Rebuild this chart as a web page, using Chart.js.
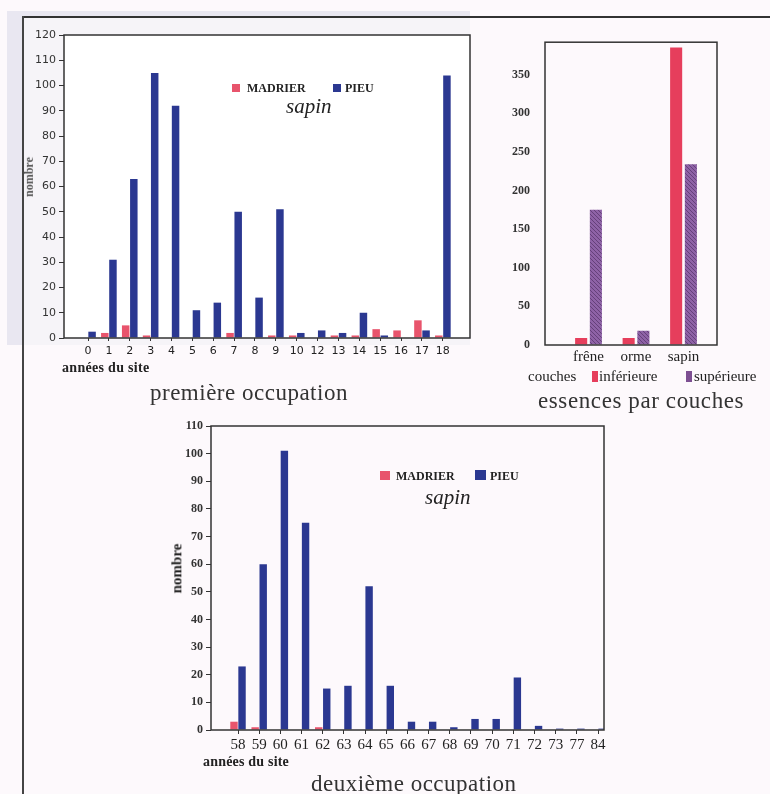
<!DOCTYPE html>
<html>
<head>
<meta charset="utf-8">
<script src="https://cdn.jsdelivr.net/npm/chart.js@4/dist/chart.umd.min.js"></script>
<style>
  body { margin: 0; width: 770px; height: 794px; background: #fdf9fc; position: relative; overflow: hidden;
         font-family: "Liberation Serif", "Times New Roman", serif; color: #222; }
  canvas { position: absolute; }
  .t { position: absolute; white-space: nowrap; line-height: 1; }
  .sq { position: absolute; }
  .leg { font-weight: bold; font-size: 12px; }
  .sapin { font-style: italic; font-size: 21px; }
  .cap { font-size: 23px; color: #333; letter-spacing: 0.5px; }
</style>
</head>
<body>
<div style="position:absolute;left:7px;top:11px;width:463px;height:334px;background:#e9e7f1"></div>
<div style="position:absolute;left:23px;top:17px;width:447px;height:328px;background:#f6f4f8"></div>
<div style="position:absolute;left:22px;top:16px;width:748px;height:2px;background:#333"></div>
<div style="position:absolute;left:22px;top:16px;width:2px;height:778px;background:#444"></div>

<canvas id="c1" width="480" height="370" style="left:0;top:0"></canvas>
<canvas id="c2" width="260" height="350" style="left:480px;top:20px"></canvas>
<canvas id="c3" width="470" height="350" style="left:150px;top:410px"></canvas>

<!-- chart 1 texts -->
<div class="t" style="left:9px;top:171px;font-size:12px;font-weight:bold;color:#555;transform:rotate(-90deg);transform-origin:center">nombre</div>
<div class="sq" style="left:232px;top:84px;width:8px;height:8px;background:#e8546c"></div>
<div class="t leg" style="left:247px;top:82px">MADRIER</div>
<div class="sq" style="left:333px;top:84px;width:8px;height:8px;background:#2b3891"></div>
<div class="t leg" style="left:345px;top:82px">PIEU</div>
<div class="t sapin" style="left:286px;top:96px">sapin</div>
<div class="t" style="left:62px;top:361px;font-size:14px;font-weight:bold;letter-spacing:0.3px">années du site</div>
<div class="t cap" style="left:150px;top:381px">première occupation</div>

<!-- chart 2 texts -->
<div class="t" style="left:528px;top:369px;font-size:15px">couches</div>
<div class="sq" style="left:592px;top:371px;width:6px;height:11px;background:#e63e5c"></div>
<div class="t" style="left:599px;top:369px;font-size:15px">inférieure</div>
<div class="sq" style="left:686px;top:371px;width:6px;height:11px;background:#7d4f92"></div>
<div class="t" style="left:694px;top:369px;font-size:15px">supérieure</div>
<div class="t cap" style="left:538px;top:389px;letter-spacing:0.6px">essences par couches</div>

<!-- chart 3 texts -->
<div class="t" style="left:152px;top:561px;font-size:15px;font-weight:bold;transform:rotate(-90deg);transform-origin:center">nombre</div>
<div class="sq" style="left:380px;top:471px;width:10px;height:9px;background:#e8546c"></div>
<div class="t leg" style="left:396px;top:470px">MADRIER</div>
<div class="sq" style="left:475px;top:470px;width:11px;height:10px;background:#2b3891"></div>
<div class="t leg" style="left:490px;top:470px">PIEU</div>
<div class="t sapin" style="left:425px;top:487px">sapin</div>
<div class="t" style="left:203px;top:755px;font-size:14px;font-weight:bold;letter-spacing:0.2px">années du site</div>
<div class="t cap" style="left:311px;top:772px">deuxième occupation</div>

<script>
// première occupation
const years1 = ['0', '1', '2', '3', '4', '5', '6', '7', '8', '9', '10', '12', '13', '14', '15', '16', '17', '18'];
const madrier1 = [0, 2, 5, 1, 0, 0, 0, 2, 0, 1, 1, 0, 1, 1, 3.5, 3, 7, 1];
const pieu1 = [2.5, 31, 63, 105, 92, 11, 14, 50, 16, 51, 2, 3, 2, 10, 1, 0, 3, 104];
const yTicks1 = [0, 10, 20, 30, 40, 50, 60, 70, 80, 90, 100, 110, 120];

// essences par couches
const essences = ['frêne', 'orme', 'sapin'];
const inferieure = [9, 9, 385];
const superieure = [175, 18.5, 234];
const yTicks2 = [0, 50, 100, 150, 200, 250, 300, 350];

// deuxième occupation
const years2 = ['58', '59', '60', '61', '62', '63', '64', '65', '66', '67', '68', '69', '70', '71', '72', '73', '77', '84'];
const madrier2 = [3, 1, 0, 0, 1, 0, 0, 0, 0, 0, 0, 0, 0, 0, 0, 0, 0, 0];
const pieu2 = [23, 60, 101, 75, 15, 16, 52, 16, 3, 3, 1, 4, 4, 19, 1.5, 0.5, 0.5, 0.5];
const yTicks3 = [0, 10, 20, 30, 40, 50, 60, 70, 80, 90, 100, 110];

const RED = '#e8546c';
const BLUE = '#2b3891';

Chart.defaults.animation = false;
Chart.defaults.responsive = false;
Chart.defaults.devicePixelRatio = 1;

// box around the plot area
const frame = {
    id: 'frame',
    beforeDraw(chart, args, opts) {
        const a = chart.chartArea, ctx = chart.ctx;
        if (opts.fill) {
            ctx.save();
            ctx.fillStyle = opts.fill;
            ctx.fillRect(a.left, a.top, a.right - a.left, a.bottom - a.top);
            ctx.restore();
        }
    },
    afterDraw(chart, args, opts) {
        const a = chart.chartArea, ctx = chart.ctx;
        ctx.save();
        ctx.strokeStyle = '#333';
        ctx.lineWidth = opts.width || 1.5;
        ctx.strokeRect(a.left, a.top, a.right - a.left, a.bottom - a.top);
        ctx.restore();
    }
};

function hatch(base, line) {
    const c = document.createElement('canvas');
    c.width = 4; c.height = 4;
    const g = c.getContext('2d');
    g.fillStyle = base;
    g.fillRect(0, 0, 4, 4);
    g.strokeStyle = line;
    g.lineWidth = 1;
    g.beginPath();
    g.moveTo(0, 0); g.lineTo(4, 4);
    g.stroke();
    return g.createPattern(c, 'repeat');
}

const pts = arr => arr.map((v, i) => ({ x: i, y: v }));

function xAxis(labels, min, max, height, font, tickLen, pad) {
    return {
        type: 'linear', min: min, max: max, offset: false,
        afterBuildTicks: s => { s.ticks = labels.map((_, i) => ({ value: i })); },
        ticks: { callback: v => labels[v], autoSkip: false, maxRotation: 0, font: font, color: '#222', padding: pad },
        grid: { drawOnChartArea: false, drawTicks: tickLen > 0, tickLength: tickLen, color: '#333', offset: false },
        border: { display: false },
        afterFit: s => { s.height = height; }
    };
}

function yAxis(ticks, max, width, font, tickLen, pad) {
    return {
        min: 0, max: max,
        afterBuildTicks: s => { s.ticks = ticks.map(v => ({ value: v })); },
        ticks: { font: font, color: '#333', padding: pad },
        grid: { drawOnChartArea: false, drawTicks: tickLen > 0, tickLength: tickLen, color: '#333' },
        border: { display: false },
        afterFit: s => { s.width = width; }
    };
}

// chart 1
new Chart(document.getElementById('c1'), {
    type: 'bar',
    data: {
        datasets: [
            { label: 'MADRIER', data: pts(madrier1), backgroundColor: RED },
            { label: 'PIEU', data: pts(pieu1), backgroundColor: BLUE }
        ]
    },
    options: {
        layout: { padding: { top: 35, right: 10, left: 0, bottom: 0 } },
        categoryPercentage: 0.78,
        barPercentage: 0.92,
        scales: {
            x: xAxis(years1, -1.15, 18.3, 32, { family: 'DejaVu Sans', size: 11 }, 3, 4),
            y: yAxis(yTicks1, 120, 64, { family: 'DejaVu Sans', size: 11 }, 5, 3)
        },
        plugins: { legend: { display: false }, tooltip: { enabled: false }, frame: { fill: '#ffffff', width: 1.5 } }
    },
    plugins: [frame]
});

// chart 2
new Chart(document.getElementById('c2'), {
    type: 'bar',
    data: {
        datasets: [
            { label: 'inférieure', data: pts(inferieure), backgroundColor: '#e63e5c' },
            { label: 'supérieure', data: pts(superieure), backgroundColor: hatch('#8e62a6', '#65407a') }
        ]
    },
    options: {
        layout: { padding: { top: 20.7, right: 23, left: 0, bottom: 0 } },
        categoryPercentage: 0.62,
        barPercentage: 0.82,
        scales: {
            x: xAxis(essences, -0.916, 2.705, 25, { family: 'Liberation Serif', size: 15 }, 0, 3),
            y: yAxis(yTicks2, 392, 65, { family: 'Liberation Serif', size: 12, weight: 'bold' }, 0, 15)
        },
        plugins: { legend: { display: false }, tooltip: { enabled: false }, frame: { width: 1.5 } }
    },
    plugins: [frame]
});

// chart 3
new Chart(document.getElementById('c3'), {
    type: 'bar',
    data: {
        datasets: [
            { label: 'MADRIER', data: pts(madrier2), backgroundColor: RED },
            { label: 'PIEU', data: pts(pieu2), backgroundColor: BLUE }
        ]
    },
    options: {
        layout: { padding: { top: 16, right: 16, left: 0, bottom: 0 } },
        categoryPercentage: 0.76,
        barPercentage: 0.92,
        scales: {
            x: xAxis(years2, -1.275, 17.28, 30, { family: 'Liberation Serif', size: 15 }, 4, 2),
            y: yAxis(yTicks3, 110, 61, { family: 'Liberation Serif', size: 12, weight: 'bold' }, 5, 3)
        },
        plugins: { legend: { display: false }, tooltip: { enabled: false }, frame: { width: 1.5 } }
    },
    plugins: [frame]
});
</script>
</body>
</html>
